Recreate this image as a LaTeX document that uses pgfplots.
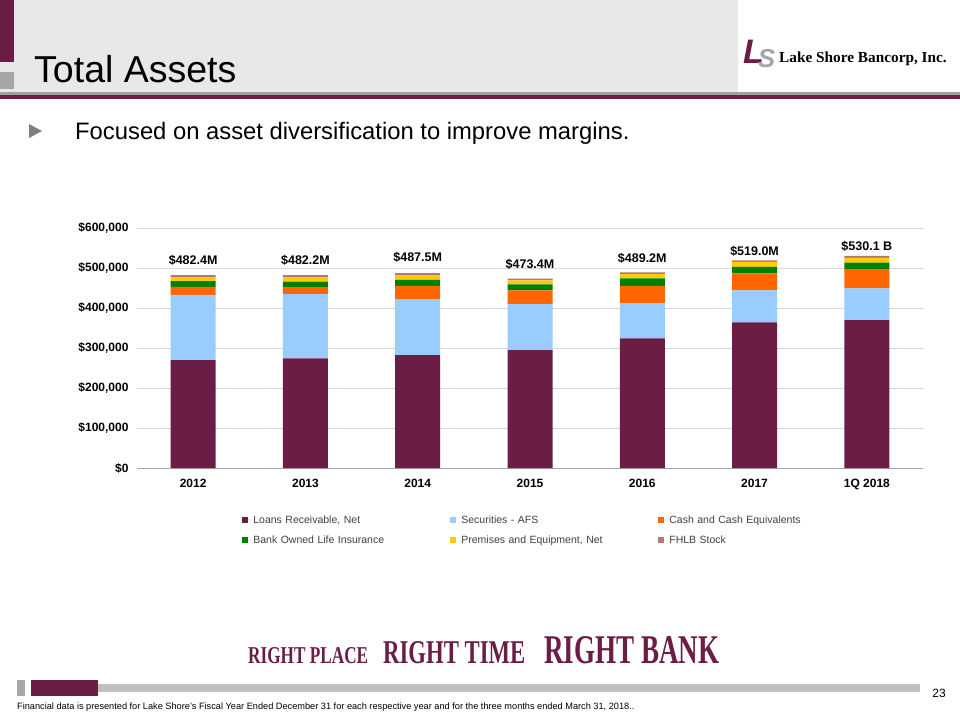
\documentclass[border=0pt]{standalone}
\usepackage{pgfplots}
\pgfplotsset{compat=1.18}
\usepackage{fontspec}
\setmainfont{Liberation Sans}
\newfontfamily\serifb{Liberation Serif}
\definecolor{maroon}{HTML}{6B1D45}
\definecolor{secblue}{HTML}{99CCFF}
\definecolor{cashor}{HTML}{FF6600}
\definecolor{boligr}{HTML}{008000}
\definecolor{premyl}{HTML}{FFCC00}
\definecolor{fhlb}{HTML}{B77676}
\definecolor{headgray}{HTML}{E8E8E8}
\definecolor{sqgray}{HTML}{A6A6A6}
\definecolor{linegray}{HTML}{A0A0A0}
\definecolor{gridgray}{HTML}{D9D9D9}
\definecolor{axisgray}{HTML}{A6A6A6}
\definecolor{footgray}{HTML}{C0C0C0}
\definecolor{bulletgray}{HTML}{7F7F7F}
\definecolor{legtext}{HTML}{404040}
\begin{document}
\begin{tikzpicture}[x=1pt,y=-1pt]
% page
\fill[white] (0,0) rectangle (960,720);
% header
\fill[headgray] (0,0) rectangle (738,92);
\fill[maroon] (0,0) rectangle (14,62);
\fill[sqgray] (0,72) rectangle (14,89);
\fill[linegray] (0,92) rectangle (960,95);
\fill[maroon] (0,95) rectangle (960,99);
\node[anchor=base west, inner sep=0, font=\fontsize{37.5}{42}\selectfont] at (34,82) {Total Assets};
% logo
\node[anchor=base west, inner sep=0, font=\bfseries\itshape] at (743,63) {{\fontsize{34}{38}\selectfont\color{maroon}L}\kern-6pt{\fontsize{26}{28}\selectfont\color{sqgray}\raisebox{-4pt}{S}}};
\node[anchor=base west, inner sep=0, font=\serifb\bfseries\fontsize{15.3}{18}\selectfont] at (779,62) {Lake Shore Bancorp, Inc.};
% bullet
\fill[bulletgray] (29,124) -- (42,131) -- (29,138) -- cycle;
\node[anchor=base west, inner sep=0, font=\fontsize{23.8}{28}\selectfont] at (75,139) {Focused on asset diversification to improve margins.};

\begin{axis}[
  at={(137pt,-468pt)}, anchor=south west,
  scale only axis, width=786pt, height=240pt,
  ybar stacked, bar width=45pt,
  xmin=-0.5, xmax=6.5, ymin=0, ymax=600000,
  xtick={0,1,2,3,4,5,6},
  xticklabels={2012,2013,2014,2015,2016,2017,1Q 2018},
  ytick={0,100000,200000,300000,400000,500000,600000},
  scaled y ticks=false,
  yticklabels={\textdollar0,\textdollar100{,}000,\textdollar200{,}000,\textdollar300{,}000,\textdollar400{,}000,\textdollar500{,}000,\textdollar600{,}000},
  ticklabel style={font=\bfseries\fontsize{12}{14}\selectfont},
  xticklabel style={yshift=-8pt},
  yticklabel style={xshift=-5pt},
  ymajorgrids, grid style={draw=gridgray, line width=0.8pt},
  axis line style={draw=none},
  tick style={draw=none},
  clip=false,
  legend columns=3,
  legend image code/.code={\fill[#1,draw=none] (0pt,-3pt) rectangle (6pt,3pt); \path (0pt,0pt) -- (9pt,0pt);},
  legend style={at={(0.130,-0.18)}, anchor=north west, draw=none, fill=none,
    font=\fontsize{10.5}{12}\selectfont, text=legtext, /tikz/row sep=7pt,
    nodes={text width=195pt, align=left}},
]
\addplot[fill=maroon, draw=none] coordinates {(0,270000) (1,274000) (2,282500) (3,295000) (4,324000) (5,364000) (6,370000)};
\addlegendentry{Loans Receivable, Net}
\addplot[fill=secblue, draw=none] coordinates {(0,163000) (1,161000) (2,140000) (3,115000) (4,88500) (5,80000) (6,79000)};
\addlegendentry{Securities - AFS}
\addplot[fill=cashor, draw=none] coordinates {(0,20000) (1,17000) (2,33000) (3,34000) (4,43000) (5,42500) (6,48000)};
\addlegendentry{Cash and Cash Equivalents}
\addplot[fill=boligr, draw=none] coordinates {(0,14000) (1,14000) (2,15000) (3,15000) (4,18500) (5,16500) (6,16500)};
\addlegendentry{Bank Owned Life Insurance}
\addplot[fill=premyl, draw=none] coordinates {(0,10000) (1,11000) (2,11500) (3,10000) (4,10500) (5,12500) (6,12000)};
\addlegendentry{Premises and Equipment, Net}
\addplot[fill=fhlb, draw=none] coordinates {(0,5400) (1,5200) (2,5500) (3,4400) (4,4700) (5,3500) (6,4600)};
\addlegendentry{FHLB Stock}
\draw[axisgray, line width=0.8pt] (axis cs:-0.5,0) -- (axis cs:6.5,0);
\node[anchor=base, inner sep=0, font=\bfseries\fontsize{12.5}{14}\selectfont] at (axis cs:0,510000) {\textdollar482.4M};
\node[anchor=base, inner sep=0, font=\bfseries\fontsize{12.5}{14}\selectfont] at (axis cs:1,510000) {\textdollar482.2M};
\node[anchor=base, inner sep=0, font=\bfseries\fontsize{12.5}{14}\selectfont] at (axis cs:2,515750) {\textdollar487.5M};
\node[anchor=base, inner sep=0, font=\bfseries\fontsize{12.5}{14}\selectfont] at (axis cs:3,500000) {\textdollar473.4M};
\node[anchor=base, inner sep=0, font=\bfseries\fontsize{12.5}{14}\selectfont] at (axis cs:4,513250) {\textdollar489.2M};
\node[anchor=base, inner sep=0, font=\bfseries\fontsize{12.5}{14}\selectfont] at (axis cs:5,532500) {\textdollar519.0M};
\node[anchor=base, inner sep=0, font=\bfseries\fontsize{12.5}{14}\selectfont] at (axis cs:6,543250) {\textdollar530.1 B};
\end{axis}

% slogan
\node[anchor=base west, inner sep=0, text=maroon] at (248,663) {\resizebox{120pt}{16pt}{\serifb\bfseries RIGHT PLACE}};
\node[anchor=base west, inner sep=0, text=maroon] at (383,663) {\resizebox{142pt}{22pt}{\serifb\bfseries RIGHT TIME}};
\node[anchor=base west, inner sep=0, text=maroon] at (544,663) {\resizebox{175pt}{27pt}{\serifb\bfseries RIGHT BANK}};
% footer
\fill[sqgray] (17,680) rectangle (25,696);
\fill[maroon] (31,680) rectangle (98,696);
\fill[footgray] (98,684) rectangle (920,692);
\node[anchor=base east, inner sep=0, font=\fontsize{12}{14}\selectfont] at (946,697) {23};
\node[anchor=base west, inner sep=0, font=\fontsize{9.2}{11}\selectfont] at (17,709) {Financial data is presented for Lake Shore's Fiscal Year Ended December 31 for each respective year and for the three months ended March 31, 2018..};
\end{tikzpicture}
\end{document}
